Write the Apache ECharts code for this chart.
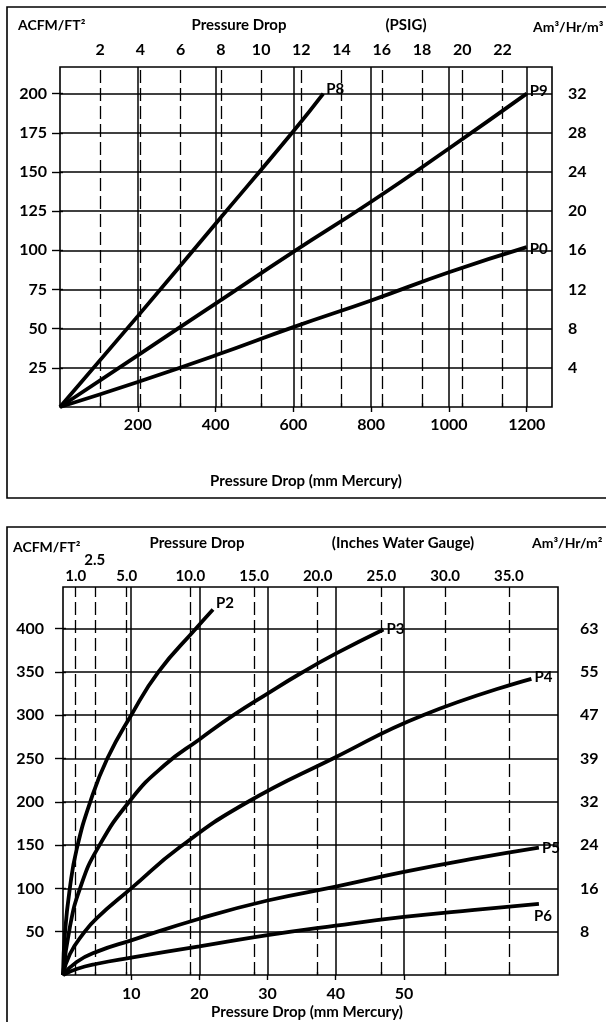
<!DOCTYPE html>
<html><head><meta charset="utf-8">
<script src="https://cdn.jsdelivr.net/npm/echarts@6/dist/echarts.min.js"></script>
<style>html,body{margin:0;padding:0;background:#fff}#c{width:606px;height:1022px}</style>
</head><body><div id="c"></div>
<script>
// ---------- DATA: top chart (PSIG) ----------
const topMmTicks = [200, 400, 600, 800, 1000, 1200];          // mm Mercury
const topPsiTicks = [2, 4, 6, 8, 10, 12, 14, 16, 18, 20, 22];  // PSIG
const topLeftTicks = [25, 50, 75, 100, 125, 150, 175, 200];    // ACFM/FT2
const topRightLabels = ['4', '8', '12', '16', '20', '24', '28', '32']; // Am3/Hr/m2
const P8 = [[0,0],[200,58],[400,117],[600,176],[677,200]];
const P9 = [[0,0],[200,33],[400,66],[600,99],[800,131],[1000,165],[1200,200]];
const P0 = [[0,0],[200,16],[400,33],[600,51],[800,68],[1000,86],[1200,102]];

// ---------- DATA: bottom chart (Inches Water Gauge) ----------
const botMmTicks = [10, 20, 30, 40, 50];
const botInchTicks = [1.0, 2.5, 5.0, 10.0, 15.0, 20.0, 25.0, 30.0, 35.0];
const botLeftTicks = [50, 100, 150, 200, 250, 300, 350, 400];
const botRightLabels = ['8', '16', '24', '32', '39', '47', '55', '63'];
const P2 = [[0,0],[0.3,50],[1,100],[2,145],[4,200],[6.5,250],[10,300],[14,350],[19.5,400],[22,422]];
const P3 = [[0,0],[1,55],[2.5,100],[5,145],[10,203],[15,243],[20,272],[25,300],[30,325],[35,349],[40,371],[47,399]];
const P4 = [[0,0],[1,24],[3,48],[5,66],[10,100],[17.2,148],[26.7,198],[39.6,250],[52.8,300],[68.7,342]];
const P5 = [[0,0],[2,15],[5,27],[10,40],[20,65],[30,86],[40,102],[50,119],[60,134],[69.8,147]];
const P6 = [[0,0],[2,7],[5,13],[10,20],[20,33],[30,46],[40,57],[50,67],[60,75],[69.8,82]];

// unit conversions (physical constants)
const MMHG_PER_PSI = 51.715;
const INH2O_PER_MMHG = 0.5353;
const topMmMax = 1265, topYMax = 217;
const botMmMax = 72.6, botYMax = 448;

const FONT = 'Lato';
const lbl = (size, extra) => Object.assign({color:'#000', fontFamily:FONT, fontWeight:'bold', fontSize:size, formatter: v => String(v)}, extra||{});
const gridLine = {show:true, lineStyle:{color:'#000', width:1.5}};
const dashStyle = {color:'#000', width:1.3, type:[13,5]};

function curve(name, data, xi, yi, labelOffset) {
  return {
    name, type:'line', data, xAxisIndex:xi, yAxisIndex:yi,
    smooth:0.5, showSymbol:false, symbol:'none', silent:true,
    lineStyle:{color:'#000', width:3.8}, z:5,
    endLabel:{show:true, formatter:'{a}', distance:3, offset:labelOffset||[0,0], color:'#000', fontFamily:FONT, fontWeight:'bold', fontSize:15}
  };
}
function vlines(ticks, xi, yi) {
  return {
    type:'line', data:[], xAxisIndex:xi, yAxisIndex:yi, silent:true, z:2,
    markLine:{silent:true, symbol:['none','none'], label:{show:false}, animation:false,
      lineStyle:dashStyle, data:ticks.map(v => ({xAxis:v}))}
  };
}
function text(x, y, s, size, align) {
  return {type:'text', x, y, z:10, style:{text:s, fill:'#000', font:'bold '+size+'px '+FONT,
    textAlign:align||'center', align:align||'center', textVerticalAlign:'middle', verticalAlign:'middle'}};
}

const option = {
  animation:false,
  backgroundColor:'#fff',
  grid:[
    {left:60, top:67, width:492, height:340, show:true, borderColor:'#000', borderWidth:1.6, backgroundColor:'transparent'},
    {left:63, top:587, width:495, height:388, show:true, borderColor:'#000', borderWidth:1.6, backgroundColor:'transparent'}
  ],
  xAxis:[
    {gridIndex:0, type:'value', position:'bottom', min:0, max:topMmMax, interval:200,
     axisLine:{show:false}, splitLine:gridLine,
     axisTick:{show:true, length:5, customValues:topMmTicks, lineStyle:{color:'#000', width:1.4}},
     axisLabel:lbl(16, {margin:10, customValues:topMmTicks})},
    {gridIndex:0, type:'value', position:'top', min:0, max:topMmMax/MMHG_PER_PSI, interval:2,
     axisLine:{show:false}, splitLine:{show:false},
     axisTick:{show:true, length:4, customValues:topPsiTicks, lineStyle:{color:'#000', width:1.3}},
     axisLabel:lbl(16, {margin:9, customValues:topPsiTicks})},
    {gridIndex:1, type:'value', position:'bottom', min:0, max:botMmMax, interval:10,
     axisLine:{show:false}, splitLine:gridLine,
     axisTick:{show:true, length:5, customValues:botMmTicks, lineStyle:{color:'#000', width:1.4}},
     axisLabel:lbl(16, {margin:11, customValues:botMmTicks})},
    {gridIndex:1, type:'value', position:'top', min:0, max:botMmMax*INH2O_PER_MMHG,
     axisLine:{show:false}, splitLine:{show:false},
     axisTick:{show:true, length:3, customValues:botInchTicks, lineStyle:{color:'#000', width:1.3}},
     axisLabel:lbl(15, {margin:3, customValues:botInchTicks,
       formatter: v => v === 2.5 ? '{up|' + v.toFixed(1) + '}' : v.toFixed(1),
       rich:{up:{color:'#000', fontFamily:FONT, fontWeight:'bold', fontSize:15, padding:[0,0,16,0]}}})}
  ],
  yAxis:[
    {gridIndex:0, type:'value', position:'left', min:0, max:topYMax, interval:25,
     axisLine:{show:false}, splitLine:gridLine,
     axisTick:{show:true, length:8, customValues:topLeftTicks, lineStyle:{color:'#000', width:1.4}},
     axisLabel:lbl(16, {margin:13, customValues:topLeftTicks})},
    {gridIndex:0, type:'value', position:'right', min:0, max:topYMax, interval:25,
     axisLine:{show:false}, splitLine:{show:false},
     axisTick:{show:true, length:3, customValues:topLeftTicks, lineStyle:{color:'#000', width:1.4}},
     axisLabel:lbl(16, {margin:16, align:'left', customValues:topLeftTicks,
       formatter: v => topRightLabels[topLeftTicks.indexOf(v)] || ''})},
    {gridIndex:1, type:'value', position:'left', min:0, max:botYMax, interval:50,
     axisLine:{show:false}, splitLine:gridLine,
     axisTick:{show:true, length:8, customValues:botLeftTicks, lineStyle:{color:'#000', width:1.4}},
     axisLabel:lbl(16, {margin:19, customValues:botLeftTicks})},
    {gridIndex:1, type:'value', position:'right', min:0, max:botYMax, interval:50,
     axisLine:{show:false}, splitLine:{show:false},
     axisTick:{show:true, length:3, customValues:botLeftTicks, lineStyle:{color:'#000', width:1.4}},
     axisLabel:lbl(16, {margin:22, align:'left', customValues:botLeftTicks,
       formatter: v => botRightLabels[botLeftTicks.indexOf(v)] || ''})}
  ],
  series:[
    vlines(topPsiTicks, 1, 0),
    vlines(botInchTicks, 3, 2),
    curve('P8', P8, 0, 0, [0,-4]),
    curve('P9', P9, 0, 0, [0,-2]),
    curve('P0', P0, 0, 0, [0,2]),
    curve('P2', P2, 2, 2, [0,-6]),
    curve('P3', P3, 2, 2, [0,0]),
    curve('P4', P4, 2, 2, [0,-2]),
    curve('P5', P5, 2, 2, [0,0]),
    curve('P6', P6, 2, 2, [-8,12])
  ],
  graphic:[
    {type:'rect', z:0, shape:{x:7, y:7, width:640, height:491}, style:{fill:'transparent', stroke:'#000', lineWidth:1.6}},
    {type:'rect', z:0, shape:{x:7, y:527, width:640, height:520}, style:{fill:'transparent', stroke:'#000', lineWidth:1.6}},
    text(18, 25, 'ACFM/FT²', 14, 'left'),
    text(239, 25, 'Pressure Drop', 15),
    text(406, 25, '(PSIG)', 15),
    text(533, 27, 'Am³/Hr/m³', 14, 'left'),
    text(306, 481, 'Pressure Drop (mm Mercury)', 15),
    text(13, 547, 'ACFM/FT²', 14, 'left'),
    text(197, 543, 'Pressure Drop', 15),
    text(403, 543, '(Inches Water Gauge)', 15),
    text(532, 543, 'Am³/Hr/m²', 14, 'left'),
    text(307, 1012, 'Pressure Drop (mm Mercury)', 15)
  ]
};
const chart = echarts.init(document.getElementById('c'), null, {renderer:'canvas', width:606, height:1022});
chart.setOption(option);
</script>
</body></html>
